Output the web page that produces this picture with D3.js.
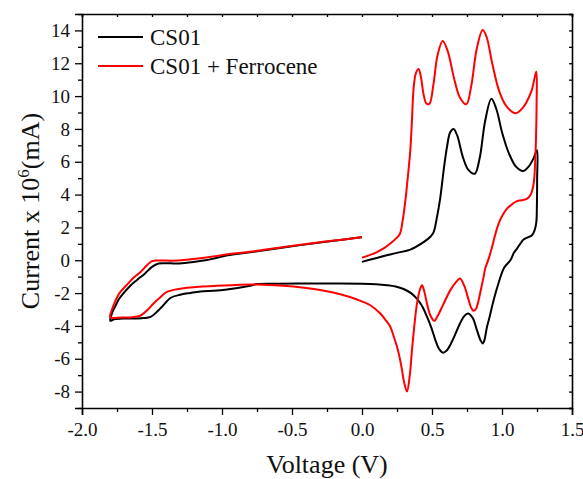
<!DOCTYPE html>
<html>
<head>
<meta charset="utf-8">
<script src="https://cdn.jsdelivr.net/npm/d3@7"></script>
<style>
  body { margin: 0; background: #fff; }
</style>
</head>
<body>
<div id="chart"></div>
<script>
// series names
const seriesNames = ["CS01", "CS01 + Ferrocene"];
const seriesColors = ["#000000", "#ff0000"];

// CS01 scan: voltage (V) and current (x10^6 mA)
const cs01V = [0.00,0.13,0.25,0.345,0.44,0.49,0.511,0.535,0.559,0.585,0.607,0.63,0.654,0.68,0.72,0.76,0.805,0.84,0.88,0.924,0.96,1.00,1.05,1.10,1.15,1.19,1.225,1.25,
  1.251,1.249,1.245,1.232,1.214,1.18,1.154,1.13,1.107,1.085,1.06,1.015,0.975,0.94,0.91,0.893,0.875,0.864,0.848,0.821,0.79,0.757,0.73,0.70,0.64,0.605,0.579,0.55,0.524,0.495,0.464,0.43,0.393,0.35,0.297,0.24,0.179,0.10,0.0,-0.2,-0.4,-0.6,-0.75,-0.8,-0.9,-1.036,-1.155,-1.226,-1.30,-1.369,-1.42,-1.464,-1.51,-1.56,-1.63,-1.70,-1.77,-1.798,
  -1.795,-1.78,-1.762,-1.735,-1.703,-1.655,-1.607,-1.55,-1.50,-1.453,-1.40,-1.32,-1.22,-1.13,-1.05,-0.96,-0.8,-0.56,-0.3,-0.1,0.0];
const cs01I = [-0.10,0.20,0.45,0.65,1.10,1.45,1.7,2.6,3.8,5.6,6.9,7.8,8.0,7.6,6.3,5.5,5.27,6.2,8.5,9.83,9.2,7.8,6.5,5.7,5.43,5.7,6.2,6.7,
  5.0,3.2,2.3,1.8,1.52,1.38,1.26,1.0,0.71,0.45,0.0,-0.45,-1.4,-2.43,-3.5,-4.05,-4.85,-5.07,-4.9,-4.26,-3.5,-3.24,-3.4,-3.85,-5.0,-5.5,-5.63,-5.4,-4.86,-4.1,-3.44,-2.8,-2.35,-2.0,-1.75,-1.6,-1.52,-1.46,-1.43,-1.42,-1.42,-1.43,-1.45,-1.55,-1.7,-1.85,-1.9,-1.99,-2.1,-2.3,-2.75,-3.14,-3.45,-3.52,-3.55,-3.55,-3.6,-3.69,
  -3.5,-3.1,-2.8,-2.35,-2.0,-1.55,-1.2,-0.8,-0.4,-0.2,-0.18,-0.2,-0.12,-0.02,0.12,0.3,0.48,0.78,1.08,1.3,1.4];

// CS01 + Ferrocene scan
const ferV = [0.0,0.05,0.107,0.16,0.2,0.24,0.27,0.29,0.31,0.33,0.345,0.355,0.369,0.385,0.404,0.42,0.44,0.46,0.481,0.51,0.54,0.576,0.61,0.66,0.70,0.745,0.78,0.82,0.862,0.89,0.93,0.98,1.03,1.095,1.15,1.21,1.245,
  1.247,1.243,1.237,1.226,1.205,1.18,1.14,1.107,1.07,1.036,1.005,0.976,0.953,0.929,0.905,0.88,0.869,0.85,0.833,0.815,0.797,0.78,0.762,0.73,0.70,0.67,0.631,0.58,0.54,0.516,0.49,0.464,0.445,0.429,0.415,0.393,0.375,0.357,0.34,0.321,0.30,0.286,0.268,0.25,0.225,0.202,0.165,0.131,0.059,-0.036,-0.155,-0.32,-0.56,-0.75,-0.8,-1.036,-1.25,-1.393,-1.44,-1.489,-1.535,-1.584,-1.64,-1.72,-1.798,
  -1.79,-1.774,-1.752,-1.726,-1.68,-1.63,-1.58,-1.536,-1.50,-1.476,-1.40,-1.32,-1.155,-1.05,-0.917,-0.8,-0.56,-0.3,-0.1,0.0];
const ferI = [0.16,0.3,0.5,0.75,1.0,1.3,1.6,2.4,3.65,5.3,6.69,8.2,10.5,11.4,11.65,11.2,10.1,9.55,9.52,10.7,12.5,13.35,12.8,11.0,9.9,9.5,10.6,12.9,14.02,13.6,12.0,10.3,9.4,8.96,9.3,10.3,11.5,
  9.5,7.5,6.0,4.66,4.0,3.75,3.65,3.6,3.4,3.14,2.75,2.23,1.6,0.81,0.1,-0.5,-1.0,-1.75,-2.43,-2.95,-3.08,-2.9,-2.43,-1.55,-1.11,-1.35,-1.82,-2.7,-3.4,-3.69,-3.4,-2.63,-1.9,-1.52,-1.75,-2.63,-3.9,-5.47,-7.1,-8.0,-7.4,-6.69,-5.9,-5.27,-4.6,-4.05,-3.6,-3.24,-2.74,-2.39,-2.07,-1.78,-1.55,-1.47,-1.48,-1.56,-1.68,-1.93,-2.25,-2.63,-3.05,-3.38,-3.47,-3.48,-3.48,
  -3.1,-2.74,-2.3,-1.93,-1.5,-1.05,-0.7,-0.3,-0.05,-0.02,-0.02,-0.02,0.12,0.25,0.41,0.52,0.81,1.1,1.3,1.42];

const xTicks = [-2.0,-1.5,-1.0,-0.5,0.0,0.5,1.0,1.5];
const yTicks = [-8,-6,-4,-2,0,2,4,6,8,10,12,14];

const FONT = "'Liberation Serif', 'Times New Roman', Times, serif";
const width = 583, height = 479;
const margin = {top: 14, right: 11, bottom: 71, left: 82};

const svg = d3.select("#chart").append("svg")
  .attr("width", width).attr("height", height);

const x = d3.scaleLinear().domain([-2, 1.5]).range([margin.left, width - margin.right]);
const y = d3.scaleLinear().domain([-9, 15]).range([height - margin.bottom, margin.top]);

const minorX = d3.range(-2, 1.5001, 0.25);
const minorY = d3.range(-9, 15.001, 1);

// bottom axis
const gx = svg.append("g").attr("transform", `translate(0,${y(-9)})`)
  .call(d3.axisBottom(x).tickValues(xTicks).tickSize(7).tickPadding(8));
gx.selectAll(".tick text")
  .attr("font-family", FONT).attr("font-size", 19).attr("fill", "#111")
  .text(d => d3.format(".1f")(d).replace("−", "-"));
svg.append("g").attr("transform", `translate(0,${y(-9)})`)
  .call(d3.axisBottom(x).tickValues(minorX.filter(v => Math.abs(v * 2 - Math.round(v * 2)) > 1e-6)).tickSize(4).tickFormat(""))
  .select(".domain").remove();

// left axis
const gy = svg.append("g").attr("transform", `translate(${x(-2)},0)`)
  .call(d3.axisLeft(y).tickValues(yTicks).tickSize(7).tickPadding(5));
gy.selectAll(".tick text")
  .attr("font-family", FONT).attr("font-size", 19).attr("fill", "#111")
  .text(d => String(d).replace("−", "-"));
svg.append("g").attr("transform", `translate(${x(-2)},0)`)
  .call(d3.axisLeft(y).tickValues(minorY.filter(v => v % 2 !== 0)).tickSize(4).tickFormat(""))
  .select(".domain").remove();

// top and right axes, inner ticks, no labels
svg.append("g").attr("transform", `translate(0,${y(15)})`)
  .call(d3.axisBottom(x).tickValues(minorX).tickSize(3).tickFormat(""));
svg.append("g").attr("transform", `translate(${x(1.5)},0)`)
  .call(d3.axisLeft(y).tickValues(minorY).tickSize(3).tickFormat(""));

svg.selectAll(".domain").attr("stroke", "#000").attr("stroke-width", 1.6);
svg.selectAll(".tick line").attr("stroke", "#000").attr("stroke-width", 1.3);

// curves
const line = d3.line()
  .x(d => x(d[0]))
  .y(d => y(d[1]))
  .curve(d3.curveCatmullRom.alpha(0.5));

const series = [
  cs01V.map((v, i) => [v, cs01I[i]]),
  ferV.map((v, i) => [v, ferI[i]])
];

svg.append("g").selectAll("path")
  .data(series)
  .join("path")
  .attr("d", line)
  .attr("fill", "none")
  .attr("stroke", (d, i) => seriesColors[i])
  .attr("stroke-width", 2)
  .attr("stroke-linejoin", "round");

// legend
const legend = svg.append("g");
seriesNames.forEach((name, i) => {
  const ly = 37 + i * 29;
  legend.append("line")
    .attr("x1", 98).attr("x2", 143).attr("y1", ly).attr("y2", ly)
    .attr("stroke", seriesColors[i]).attr("stroke-width", 2);
  legend.append("text")
    .attr("x", 150).attr("y", ly + 8)
    .attr("font-family", FONT).attr("font-size", 23).attr("fill", "#111")
    .text(name);
});

// axis titles
svg.append("text")
  .attr("x", x(-0.25)).attr("y", 473)
  .attr("text-anchor", "middle")
  .attr("font-family", FONT).attr("font-size", 26).attr("fill", "#111")
  .text("Voltage (V)");

const yt = svg.append("text")
  .attr("transform", `translate(39,${y(3)}) rotate(-90)`)
  .attr("text-anchor", "middle")
  .attr("font-family", FONT).attr("font-size", 26).attr("fill", "#111");
yt.append("tspan").text("Current x 10");
yt.append("tspan").attr("dy", -10).attr("font-size", 17).text("6");
yt.append("tspan").attr("dy", 10).text("(mA)");
</script>
</body>
</html>
